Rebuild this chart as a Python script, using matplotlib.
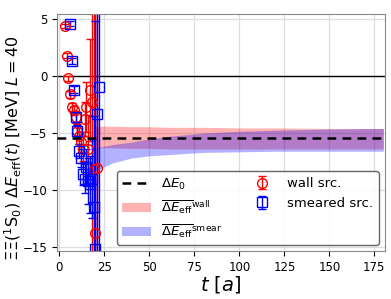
import numpy as np
import matplotlib.pyplot as plt

# effective energy shift, wall source
t_wall = [3, 4, 5, 6, 7, 8, 9, 10, 11, 12, 13, 14, 15, 16, 17, 18, 19, 20, 21]
dE_wall = [4.4, 1.8, -0.2, -1.6, -2.7, -3.0, -3.6, -4.8, -5.3, -5.8, -6.4,
           -3.8, -2.7, -6.4, -1.2, -2.3, -8.2, -13.8, -8.1]
err_wall = [0.15, 0.2, 0.25, 0.3, 0.35, 0.4, 0.5, 0.6, 0.7, 0.9, 1.1,
            1.5, 2.2, 3.0, 4.5, 15.0, 20.0, 25.0, 30.0]

# effective energy shift, smeared source
t_smear = [6, 7, 8, 9, 10, 11, 12, 13, 14, 15, 16, 17, 18, 19, 20, 21, 22]
dE_smear = [4.6, 1.3, -1.2, -3.6, -4.8, -6.6, -7.2, -8.6, -9.0, -8.0,
            -9.2, -9.5, -9.0, -11.5, -15.2, -3.3, -1.0]
err_smear = [0.2, 0.25, 0.3, 0.4, 0.5, 0.6, 0.8, 1.0, 1.3, 1.6,
             2.0, 2.5, 3.5, 8.0, 20.0, 25.0, 30.0]

# averaged bands
t_band = [20, 30, 40, 50, 60, 80, 100, 120, 150, 180]
wall_hi = [-4.4, -4.4, -4.45, -4.45, -4.5, -4.5, -4.55, -4.55, -4.6, -4.6]
wall_lo = [-6.3, -6.3, -6.35, -6.35, -6.4, -6.4, -6.4, -6.4, -6.4, -6.4]
smear_hi = [-6.3, -6.0, -5.8, -5.5, -5.3, -5.0, -4.85, -4.75, -4.65, -4.6]
smear_lo = [-8.3, -7.6, -7.2, -7.0, -6.9, -6.7, -6.65, -6.6, -6.6, -6.6]

dE0 = -5.45

plt.rcParams.update({
    "font.size": 9,
    "xtick.labelsize": 8.5,
    "ytick.labelsize": 8.5,
})

fig = plt.figure(figsize=(3.91, 2.99), dpi=100)
ax = fig.add_axes([0.146, 0.161, 0.839, 0.792])

ax.axhline(0, color="black", lw=1.0, zorder=1)
ax.fill_between(t_band, wall_lo, wall_hi, color="red", alpha=0.3, lw=0,
                label=r"$\overline{\Delta E_{\rm eff}}^{\rm wall}$")
ax.fill_between(t_band, smear_lo, smear_hi, color="blue", alpha=0.3, lw=0,
                label=r"$\overline{\Delta E_{\rm eff}}^{\rm smear}$")
ax.axhline(dE0, color="black", ls=(0, (3.5, 2.5)), lw=1.8, zorder=3,
           label=r"$\Delta E_0$")

ax.errorbar(t_wall, dE_wall, yerr=err_wall, fmt="o", color="red", mfc="none",
            ms=7, mew=1.0, elinewidth=1.0, capsize=3, label="wall src.")
ax.errorbar(t_smear, dE_smear, yerr=err_smear, fmt="s", color="blue", mfc="none",
            ms=7, mew=1.0, elinewidth=1.0, capsize=3, label="smeared src.")

ax.set_xlim(-1.3, 181)
ax.set_ylim(-15.35, 5.45)
ax.set_xticks(np.arange(0, 176, 25))
ax.set_yticks([5, 0, -5, -10, -15])
ax.grid(True, color="#dddddd", lw=0.9)
ax.set_axisbelow(True)
for s in ax.spines.values():
    s.set_color("#888888")

ax.set_xlabel(r"$t\ [a]$", fontsize=14, labelpad=0)
ax.set_ylabel(r"$\Xi\Xi(^1\mathrm{S}_0)\ \Delta E_{\rm eff}(t)$ [MeV] $L=40$",
              fontsize=11.5)
ax.yaxis.set_label_coords(-0.1, 0.435)

h, l = ax.get_legend_handles_labels()
order = [2, 0, 1, 3, 4]
leg = ax.legend([h[i] for i in order], [l[i] for i in order], ncol=2,
                loc="lower right", bbox_to_anchor=(0.98, 0.025),
                borderaxespad=0, fontsize=9.5, columnspacing=1.9,
                handlelength=2.2, edgecolor="#555555", framealpha=0.9)

fig.savefig("out.png", dpi=100)
